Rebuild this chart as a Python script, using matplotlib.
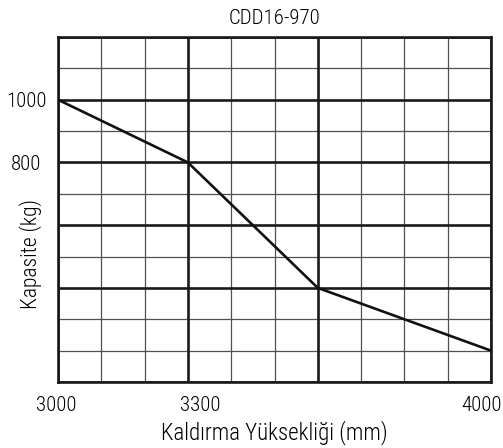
import matplotlib.pyplot as plt
from matplotlib.transforms import offset_copy

plt.rcParams['font.family'] = ['Roboto Condensed', 'DejaVu Sans']
plt.rcParams['font.weight'] = 'light'
plt.rcParams['axes.titleweight'] = 'light'
plt.rcParams['axes.labelweight'] = 'light'

# data
heights = [3000, 3300, 3600, 4000]
capacity = [1000, 800, 400, 200]

xticks = [3000, 3300, 4000]
yticks = [1000, 800]

x_grid = list(range(3000, 4001, 100))
y_grid = list(range(100, 1201, 100))
x_major = [3000, 3300, 3600, 4000]
y_major = [1200, 1000, 800, 600, 400, 100]

fig = plt.figure(figsize=(5.03, 4.48), dpi=100)
ax = fig.add_axes([58/503, 66/448, 433/503, 345/448])

for x in x_grid:
    if x in x_major:
        ax.axvline(x, color='#1a1a1a', lw=1.9, zorder=2)
    else:
        ax.axvline(x, color='#505050', lw=0.9, zorder=1)
for y in y_grid:
    if y in y_major:
        ax.axhline(y, color='#1a1a1a', lw=1.9, zorder=2)
    else:
        ax.axhline(y, color='#505050', lw=0.9, zorder=1)

ax.plot(heights, capacity, color='#111111', lw=1.9, zorder=3)

ax.set_xlim(3000, 4000)
ax.set_ylim(100, 1200)
ax.set_xticks(xticks)
ax.set_yticks(yticks)
ax.set_xticklabels([str(v) for v in xticks], fontsize=15)
ax.set_yticklabels([str(v) for v in yticks], fontsize=15)
ax.tick_params(length=0)
ax.tick_params(axis='x', pad=10)
ax.tick_params(axis='y', pad=23)
for lab in ax.get_yticklabels():
    lab.set_horizontalalignment('center')

# the labels sit a little off their grid lines in the original
shifts = [-2, 12, -9]
for lab, dx in zip(ax.get_xticklabels(), shifts):
    lab.set_transform(offset_copy(lab.get_transform(), fig=fig, x=dx, y=0, units='dots'))

for s in ax.spines.values():
    s.set_linewidth(1.9)
    s.set_color('#1a1a1a')

ax.set_title('CDD16-970', fontsize=15, pad=9, fontweight='light')
ax.set_xlabel('Kaldırma Yüksekliği (mm)', fontsize=16.5, labelpad=4, fontweight='light')
ax.set_ylabel('Kapasite (kg)', fontsize=15.5, fontweight='light')
ax.yaxis.set_label_coords(-0.037, 0.37)

fig.savefig('out.png', dpi=100)
